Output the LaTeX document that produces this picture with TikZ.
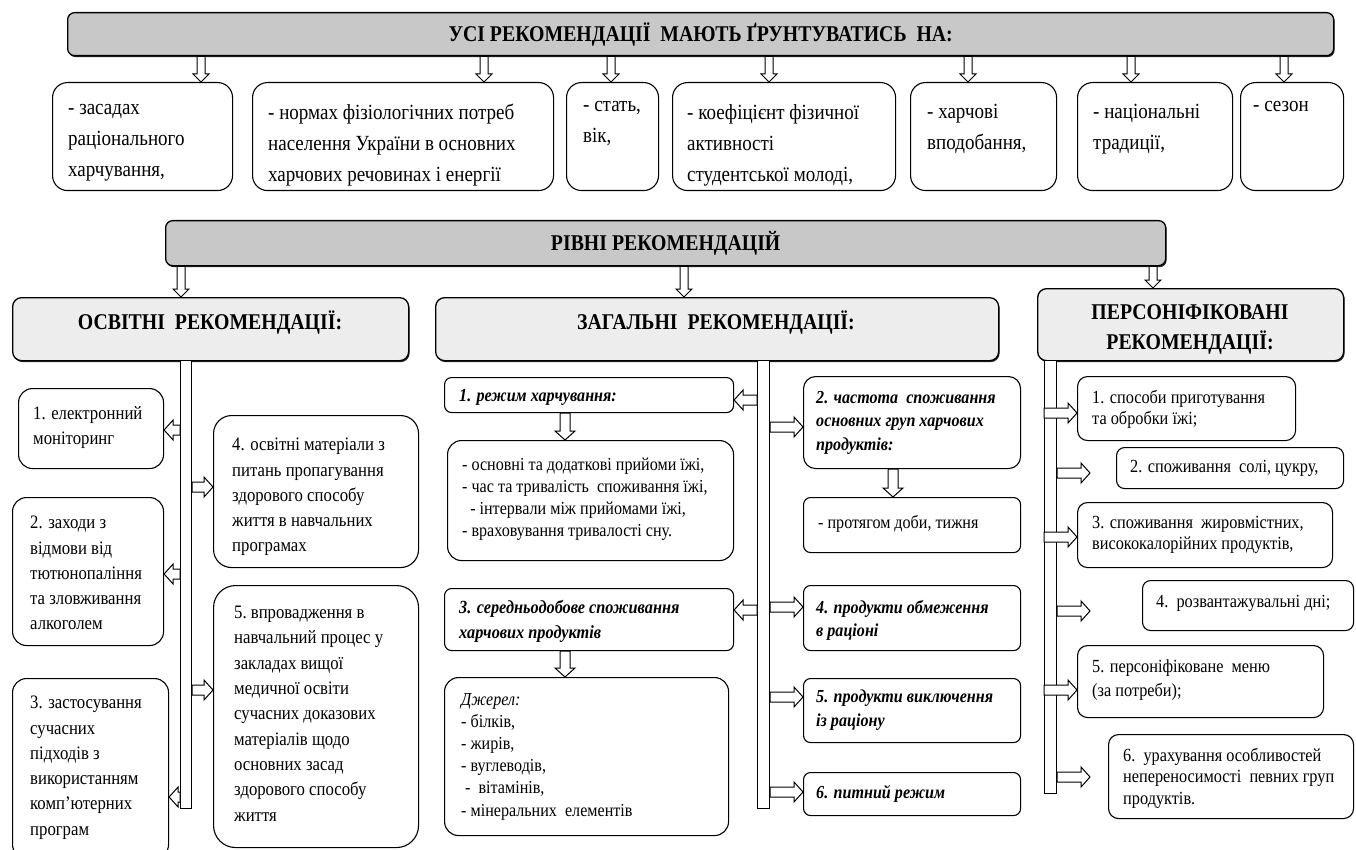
\documentclass[tikz,border=0pt]{standalone}
\usepackage{fontspec}
\setmainfont{Liberation Serif}[FakeStretch=0.88]
\usetikzlibrary{calc,shadows}
\definecolor{hdrgray}{HTML}{C8C8C8}
\definecolor{colgray}{HTML}{EDEDED}
\newcommand\fH{\fontsize{22.5}{26}\selectfont\bfseries}
\newcommand\fT{\fontsize{21.6}{31}\selectfont}
\newcommand\fL{\fontsize{19}{25.3}\selectfont}
\newcommand\fM{\fontsize{18.3}{22}\selectfont}
\newcommand\fR{\fontsize{18.5}{21.5}\selectfont}
\tikzset{
  box/.style={draw=black, line width=1.1pt, fill=white, rounded corners=14pt, inner sep=0pt},
  sbox/.style={box, rounded corners=7pt},
  hdr/.style={draw=black, line width=1.3pt, fill=hdrgray, rounded corners=7pt, inner sep=0pt,
     drop shadow={shadow xshift=1pt, shadow yshift=-1.5pt, fill=black!85, opacity=1}},
  colhdr/.style={hdr, fill=colgray, rounded corners=9pt},
  bar/.style={draw=black, line width=1.1pt, fill=white, inner sep=0pt},
  txt/.style={anchor=north west, inner sep=0pt, align=flush left},
  arrsty/.style={draw=black, line width=1pt, fill=white, line join=miter},
}
% block arrow: #1 shaft half-width, #2 head half-width, #3 head length, #4 from, #5 to
\newcommand\barr[5]{%
  \draw[arrsty] let \p1=($#5-#4$), \n1={veclen(\x1,\y1)}, \n2={atan2(\y1,\x1)} in
   [shift={#4}, rotate=\n2] (0,#1) -- ({\n1-#3},#1) -- ({\n1-#3},#2) -- (\n1,0)
   -- ({\n1-#3},-#2) -- ({\n1-#3},-#1) -- (0,-#1) -- cycle;}
\newcommand\bx[6][]{%
  \node[box,#1,anchor=north west,minimum width={(#5-#3)*1pt},minimum height={(#6-#4)*1pt}] (#2) at (#3,#4) {};}
\begin{document}
\begin{tikzpicture}[x=1pt,y=-1pt]
\useasboundingbox (0,0) rectangle (1356,850);
% ---------- headers ----------
\node[hdr, anchor=north west, minimum width=1266pt, minimum height=43pt] (h1) at (67,12)
  {\fH УСІ РЕКОМЕНДАЦІЇ\ \ МАЮТЬ ҐРУНТУВАТИСЬ\ \ НА:};
\node[hdr, anchor=north west, minimum width=1000pt, minimum height=45pt] (h2) at (165,220)
  {\fH РІВНІ РЕКОМЕНДАЦІЙ};
\node[colhdr, anchor=north west, minimum width=396pt, minimum height=63pt] (c1) at (12,297) {};
\node[colhdr, anchor=north west, minimum width=563pt, minimum height=63pt] (c2) at (435,297) {};
\node[colhdr, anchor=north west, minimum width=306pt, minimum height=72pt] (c3) at (1037,288) {};
\node[font=\fH] (c1t) at (210,323) {ОСВІТНІ\ \ РЕКОМЕНДАЦІЇ:};
\node[font=\fH] (c2t) at (716,323) {ЗАГАЛЬНІ\ \ РЕКОМЕНДАЦІЇ:};
\node[align=center, font={\fontsize{22.5}{30}\selectfont\bfseries}] (c3t) at (1190,329) {ПЕРСОНІФІКОВАНІ\\РЕКОМЕНДАЦІЇ:};
% ---------- top boxes ----------
\bx[rounded corners=15pt]{t1}{52}{82}{232}{190}
\bx[rounded corners=15pt]{t2}{252}{82}{553}{190}
\bx[rounded corners=15pt]{t3}{566}{82}{658}{190}
\bx[rounded corners=15pt]{t4}{672}{82}{895}{190}
\bx[rounded corners=15pt]{t5}{910}{82}{1056}{190}
\bx[rounded corners=15pt]{t6}{1077}{82}{1232}{190}
\bx[rounded corners=15pt]{t7}{1240}{82}{1343}{190}
\node[txt, font=\fT, text width=160pt] (t1t) at (68,104) {- засадах\\раціонального\\харчування,};
\node[txt, font=\fT, text width=280pt] (t2t) at (268,104) {- нормах фізіологічних потреб\\населення України в основних\\харчових речовинах і енергії};
\node[txt, font=\fT, text width=75pt] (t3t) at (583,101) {- стать,\\вік,};
\node[txt, font=\fT, text width=205pt] (t4t) at (687,104) {- коефіцієнт фізичної\\активності\\студентської молоді,};
\node[txt, font=\fT, text width=128pt] (t5t) at (927,104) {- харчові\\вподобання,};
\node[txt, font=\fT, text width=138pt] (t6t) at (1093,104) {- національні\\традиції,};
\node[txt, font=\fT, text width=85pt] (t7t) at (1253,101) {- сезон};
\foreach \bn/\xx in {t1/201,t2/484,t3/611,t4/769,t5/968,t6/1131,t7/1284}
  {\barr{4}{8}{8}{(h1.south -| \xx,0)}{(\bn.north -| \xx,0)}}
% ---------- level arrows ----------
\barr{4}{8}{8}{(h2.south -| 181,0)}{(c1.north -| 181,0)}
\barr{4}{8}{8}{(h2.south -| 684,0)}{(c2.north -| 684,0)}
\barr{4}{8}{8}{(h2.south -| 1153,0)}{(c3.north -| 1153,0)}
% ---------- bars ----------
\node[bar, anchor=north west, minimum width=11pt, minimum height=448pt] (lbar) at (180,360) {};
\node[bar, anchor=north west, minimum width=12pt, minimum height=448pt] (mbar) at (757,360) {};
\node[bar, anchor=north west, minimum width=12pt, minimum height=433pt] (rbar) at (1044,360) {};
% ---------- left column ----------
\bx{l1}{18}{388}{163}{468}
\bx{l2}{12}{497}{163}{645}
\bx{l3}{12}{678}{168}{858}
\bx[rounded corners=18pt]{l4}{213}{415}{418}{567}
\bx[rounded corners=22pt]{l5}{213}{585}{418}{847}
\node[txt, font=\fL, text width=128pt] (l1t) at (33,406) {1. електронний\\моніторинг};
\node[txt, font=\fL, text width=132pt] (l2t) at (30,516) {2. заходи з\\відмови від\\тютюнопаління\\та зловживання\\алкоголем};
\node[txt, font=\fL, text width=136pt] (l3t) at (30,696) {3. застосування\\сучасних\\підходів з\\використанням\\комп’ютерних\\програм};
\node[txt, font=\fL, text width=184pt] (l4t) at (232,438) {4. освітні матеріали з\\питань пропагування\\здорового способу\\життя в навчальних\\програмах};
\node[txt, font=\fL, text width=182pt] (l5t) at (234,606) {5.\ впровадження в\\навчальний процес\ у\\закладах вищої\\медичної освіти\\сучасних\ доказових\\матеріалів щодо\\основних засад\\здорового способу\\життя};
\barr{5}{10}{9}{(lbar.west |- 0,430)}{(l1.east |- 0,430)}
\barr{5}{10}{9}{(lbar.west |- 0,574)}{(l2.east |- 0,574)}
\barr{5}{10}{9}{(lbar.west |- 0,797)}{(l3.east |- 0,797)}
\barr{5}{10}{9}{(lbar.east |- 0,487)}{(l4.west |- 0,487)}
\barr{5}{10}{9}{(lbar.east |- 0,690)}{(l5.west |- 0,690)}
% ---------- middle column ----------
\bx[sbox]{m1}{444}{377}{733}{412}
\bx{m1b}{447}{440}{733}{560}
\bx[sbox]{m3}{444}{588}{733}{650}
\bx{m3b}{444}{677}{728}{835}
\bx[rounded corners=12pt]{m2}{803}{376}{1020}{468}
\bx[sbox]{m2b}{803}{497}{1020}{552}
\bx[sbox]{m4}{803}{585}{1020}{650}
\bx[sbox]{m5}{803}{678}{1020}{742}
\bx[sbox]{m6}{803}{772}{1020}{815}
\node[txt, font=\fM\bfseries\itshape, text width=268pt] (m1t) at (459,389) {1. режим харчування:};
\node[txt, font=\fM, text width=268pt] (m1bt) at (462,458) {- основні та додаткові прийоми їжі,\\- час та тривалість\ \ споживання їжі,\\\ \ - інтервали між прийомами їжі,\\- враховування тривалості сну.};
\node[txt, font={\fontsize{18.5}{25}\selectfont\bfseries\itshape}, text width=270pt] (m3t) at (459,600) {3. середньодобове споживання\\харчових продуктів};
\node[txt, font={\fontsize{18.3}{22.2}\selectfont}, text width=262pt] (m3bt) at (461,693) {\textit{Джерел:}\\- білків,\\- жирів,\\- вуглеводів,\\\ -\ \ вітамінів,\\- мінеральних\ \ елементів};
\node[txt, font={\fontsize{18.3}{23.5}\selectfont\bfseries\itshape}, text width=202pt] (m2t) at (816,391) {2. частота\ \ споживання\\основних груп харчових\\продуктів:};
\node[txt, font=\fM, text width=198pt] (m2bt) at (818,515) {- протягом доби, тижня};
\node[txt, font={\fontsize{18.3}{23.5}\selectfont\bfseries\itshape}, text width=202pt] (m4t) at (816,600) {4. продукти обмеження\\в раціоні};
\node[txt, font={\fontsize{18.3}{23.5}\selectfont\bfseries\itshape}, text width=202pt] (m5t) at (816,690) {5. продукти виключення\\із раціону};
\node[txt, font=\fM\bfseries\itshape, text width=202pt] (m6t) at (816,785) {6. питний режим};
\barr{5}{10}{9}{(mbar.west |- 0,400)}{(m1.east |- 0,400)}
\barr{5}{10}{9}{(mbar.west |- 0,610)}{(m3.east |- 0,610)}
\barr{5}{10}{9}{(mbar.east |- 0,427)}{(m2.west |- 0,427)}
\barr{5}{10}{9}{(mbar.east |- 0,607)}{(m4.west |- 0,607)}
\barr{5}{10}{9}{(mbar.east |- 0,697)}{(m5.west |- 0,697)}
\barr{5}{10}{9}{(mbar.east |- 0,792)}{(m6.west |- 0,792)}
\barr{5}{10}{9}{(m1.south -| 565,0)}{(m1b.north -| 565,0)}
\barr{5}{10}{9}{(m3.south -| 565,0)}{(m3b.north -| 565,0)}
\barr{5}{10}{9}{(m2.south -| 893,0)}{(m2b.north -| 893,0)}
% ---------- right column ----------
\bx[rounded corners=10pt]{r1}{1077}{376}{1295}{440}
\bx[rounded corners=8pt]{r2}{1116}{447}{1343}{488}
\bx[rounded corners=10pt]{r3}{1077}{502}{1332}{567}
\bx[rounded corners=8pt]{r4}{1142}{580}{1353}{630}
\bx[rounded corners=10pt]{r5}{1077}{645}{1323}{717}
\bx[rounded corners=10pt]{r6}{1108}{734}{1353}{818}
\node[txt, font=\fR, text width=200pt] (r1t) at (1092,390) {1. способи приготування\\та обробки їжі;};
\node[txt, font=\fR, text width=210pt] (r2t) at (1130,460) {2. споживання\ \ солі, цукру,};
\node[txt, font=\fR, text width=238pt] (r3t) at (1092,516) {3. споживання\ \ жировмістних,\\висококалорійних продуктів,};
\node[txt, font=\fR, text width=195pt] (r4t) at (1156,595) {4.\ \ розвантажувальні дні;};
\node[txt, font={\fontsize{18.5}{24}\selectfont}, text width=228pt] (r5t) at (1092,659) {5. персоніфіковане\ \ меню\\(за потреби);};
\node[txt, font=\fR, text width=228pt] (r6t) at (1123,748) {6.\ \ урахування особливостей\\непереносимості\ \ певних груп\\продуктів.};
\coordinate (r2a) at (1090,473);
\coordinate (r4a) at (1090,611);
\coordinate (r6a) at (1090,777);
\barr{5}{10}{9}{(rbar.west |- 0,413)}{(r1.west |- 0,413)}
\barr{5}{10}{9}{(rbar.east |- r2a)}{(r2a)}
\barr{5}{10}{9}{(rbar.west |- 0,537)}{(r3.west |- 0,537)}
\barr{5}{10}{9}{(rbar.east |- r4a)}{(r4a)}
\barr{5}{10}{9}{(rbar.west |- 0,690)}{(r5.west |- 0,690)}
\barr{5}{10}{9}{(rbar.east |- r6a)}{(r6a)}
\end{tikzpicture}
\end{document}
